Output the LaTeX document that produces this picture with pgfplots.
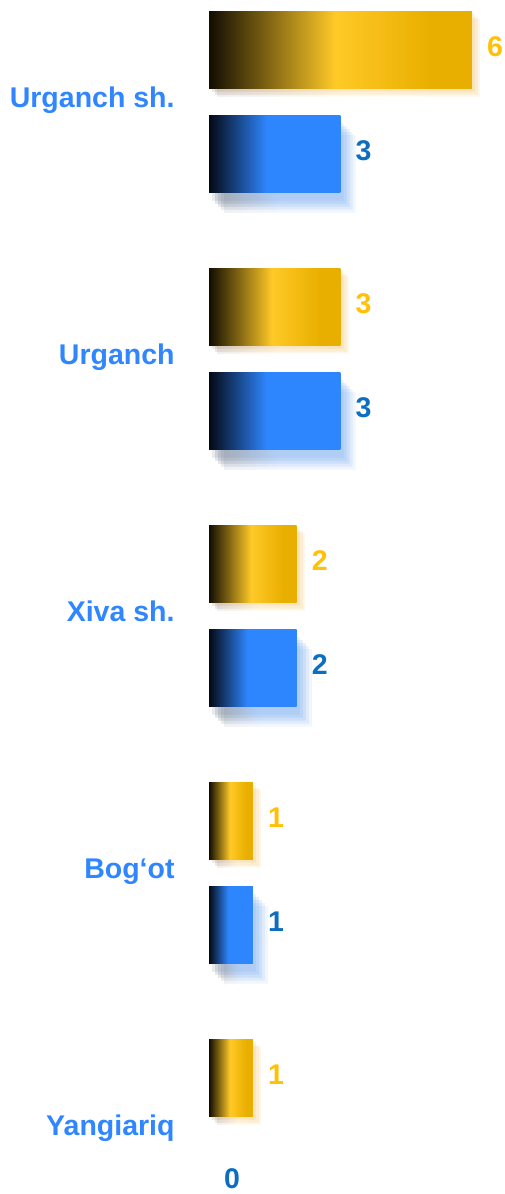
\documentclass[border=0pt]{standalone}
\usepackage{pgfplots}
\pgfplotsset{compat=1.18}
\usepackage{pgfplotstable}
\usepackage{fontspec}
\setmainfont{Liberation Sans}

\definecolor{catblue}{HTML}{2F86FF}
\definecolor{goldlab}{HTML}{FFC107}
\definecolor{bluelab}{HTML}{0D6EC0}
\definecolor{g0}{HTML}{120D02}
\definecolor{gmid}{HTML}{FFC927}
\definecolor{gend}{HTML}{E9AF00}
\definecolor{b0}{HTML}{040914}
\definecolor{bmid}{HTML}{2E86FF}
\definecolor{shblue}{HTML}{B5C8E0}
\definecolor{shgold}{HTML}{F6B896}

\pgfdeclarehorizontalshading{goldbar}{100bp}{color(0bp)=(g0); color(25bp)=(g0); color(49bp)=(gmid); color(67bp)=(gend); color(75bp)=(gend); color(100bp)=(gend)}
\pgfdeclarehorizontalshading{bluebar}{100bp}{color(0bp)=(b0); color(25bp)=(b0); color(47bp)=(bmid); color(75bp)=(bmid); color(100bp)=(bmid)}

\pgfplotstableread{
y gold blue
4 6 3
3 3 3
2 2 2
1 1 1
0 1 0
}\data

\tikzset{valfont/.style={font=\bfseries\fontsize{28.5}{34}\selectfont, anchor=base west, inner sep=0pt, xshift=15pt}}

\pgfplotsset{
  goldstyle/.style={bar shift=52pt, draw=none, shade, shading=goldbar,
    preaction={fill=shgold, opacity=0.08, transform canvas={xshift=3pt, yshift=-3pt}},
    preaction={fill=shgold, opacity=0.08, transform canvas={xshift=6pt, yshift=-6pt}},
    preaction={fill=shgold, opacity=0.06, transform canvas={xshift=8pt, yshift=-8pt}},
    every node near coord/.append style={valfont, text=goldlab, yshift=-7pt}},
  bluestyle/.style={bar shift=-52pt, draw=none, shade, shading=bluebar,
    preaction={fill=shblue, opacity=0.07, transform canvas={xshift=3pt, yshift=-8pt}},
    preaction={fill=shblue, opacity=0.09, transform canvas={xshift=6pt, yshift=-11pt}},
    preaction={fill=shblue, opacity=0.09, transform canvas={xshift=9pt, yshift=-14pt}},
    preaction={fill=shblue, opacity=0.07, transform canvas={xshift=12pt, yshift=-17pt}},
    preaction={fill=shblue, opacity=0.05, transform canvas={xshift=15pt, yshift=-20pt}},
    every node near coord/.append style={valfont, text=bluelab, yshift=-6.5pt}},
}

\begin{document}
\begin{tikzpicture}
\path[use as bounding box] (0,0) rectangle (505pt,1194pt);
\begin{axis}[
  at={(209pt,1220.5pt)}, anchor=north west,
  scale only axis, width=289.3pt, height=1285pt,
  xmin=0, xmax=6.6, ymin=-0.5, ymax=4.5,
  clip=false,
  axis line style={draw=none}, tick style={draw=none},
  xtick=\empty,
  ytick={0,1,2,3,4},
  yticklabels={Yangiariq, Bog‘ot, Xiva sh., Urganch, Urganch sh.},
  yticklabel style={font=\bfseries\fontsize{28.5}{34}\selectfont, text=catblue, anchor=base east, inner sep=0pt, xshift=-30pt, yshift=-5.5pt},
  xbar, bar width=77pt,
  /pgf/number format/assume math mode=true,
  nodes near coords,
]
\pgfplotsinvokeforeach{0,1,2,3,4}{
  \addplot[goldstyle, restrict y to domain=#1:#1] table[x=gold, y=y] {\data};
}
\pgfplotsinvokeforeach{1,2,3,4}{
  \addplot[bluestyle, restrict y to domain=#1:#1] table[x=blue, y=y] {\data};
}
\addplot[bar shift=-52pt, draw=none, fill=none,
  every node near coord/.append style={valfont, text=bluelab, yshift=-6.5pt},
  restrict y to domain=0:0] table[x=blue, y=y] {\data};
\end{axis}
\end{tikzpicture}
\end{document}
